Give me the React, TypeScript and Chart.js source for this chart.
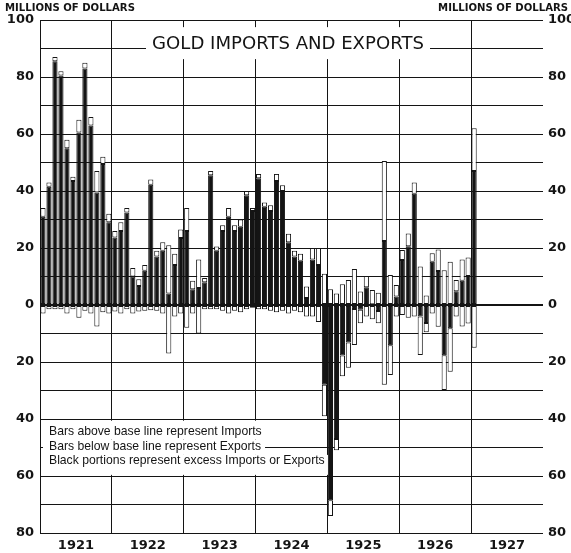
import React, { useEffect, useRef } from "react";
import { Chart, registerables } from "chart.js";
Chart.register(...registerables);

const YEARS = ["1921", "1922", "1923", "1924", "1925", "1926", "1927"];
const MONTHS = ["Jan", "Feb", "Mar", "Apr", "May", "Jun", "Jul", "Aug", "Sep", "Oct", "Nov", "Dec"];

// Gold imports, millions of dollars (Jan 1921 - Jan 1927)
const IMPORTS = [
  34, 43, 87, 82, 58, 45, 65, 85, 66, 47, 52, 32,
  26, 29, 34, 13, 9, 14, 44, 19, 22, 21, 18, 26.5,
  34, 8.5, 16, 9.5, 47, 20.5, 28, 34, 28, 30, 40, 34,
  46, 36, 35, 46, 42, 25, 19, 18, 6.5, 20, 20, 11,
  5.5, 4, 7.3, 8.8, 12.6, 4.7, 10.2, 5.3, 4.3, 50.5, 10.5, 7,
  19.3, 25.1, 43, 13.5, 3.3, 18.2, 19.5, 12.2, 15.2, 8.8, 16, 16.7,
  62,
];
// Gold exports, millions of dollars
const EXPORTS = [
  3, 1.5, 1.5, 1.5, 3, 1.5, 4.5, 2, 3, 7.5, 2.5, 3,
  2.3, 3, 1.5, 3, 2.3, 2, 1.8, 2, 3, 17, 4, 3,
  8, 3, 10, 1.5, 1.5, 1.5, 2, 3, 2, 2.5, 1.5, 1,
  1.5, 1.5, 2, 2.5, 2, 3, 2, 2.5, 4, 4, 6, 39,
  74, 51, 25, 22, 14, 6.4, 4, 5, 6.4, 28, 24.6, 4,
  3.5, 4.5, 4, 17.5, 9.6, 3, 7.6, 29.8, 23.4, 4, 7.5, 6.5,
  15,
];
const TICK_VALUES = [100, 80, 60, 40, 20, 0, -20, -40, -60, -80];
const TITLE = "GOLD IMPORTS AND EXPORTS";
const UNIT = "MILLIONS OF DOLLARS";
const LEGEND_LINES = [
  "Bars above base line represent Imports",
  "Bars below base line represent Exports",
  "Black portions represent excess Imports or Exports",
];

const INK = "#141414";

function fitFont(ctx: CanvasRenderingContext2D, text: string, style: string, family: string, size: number, target: number) {
  ctx.font = `${style} ${size}px ${family}`;
  const w = ctx.measureText(text).width;
  const s = Math.max(6, Math.min(30, (size * target) / w));
  ctx.font = `${style} ${s.toFixed(2)}px ${family}`;
}

const decorPlugin = {
  id: "decor",
  beforeDatasetsDraw(chart: any) {
    const ctx: CanvasRenderingContext2D = chart.ctx;
    const ys = chart.scales.y;
    ctx.save();
    // title panel
    ctx.fillStyle = "#ffffff";
    ctx.fillRect(146, ys.getPixelForValue(97.5), 284, 32);
    fitFont(ctx, TITLE, "normal", "'DejaVu Sans'", 16, 272);
    ctx.fillStyle = INK;
    ctx.textAlign = "center";
    ctx.textBaseline = "middle";
    ctx.fillText(TITLE, 288, ys.getPixelForValue(91.5));

    // legend panel
    ctx.textAlign = "left";
    const family = "'Liberation Sans'";
    const centers = [-44.3, -49.6, -54.6];
    const bands = [[-40.6, -47.2], [-47.2, -52.6], [-52.6, -59.6]];
    LEGEND_LINES.forEach((line, k) => {
      ctx.font = `12.2px ${family}`;
      const w = ctx.measureText(line).width;
      const top = ys.getPixelForValue(bands[k][0]);
      const bot = ys.getPixelForValue(bands[k][1]);
      ctx.fillStyle = "#ffffff";
      ctx.fillRect(43, top, w + 10, bot - top);
      ctx.fillStyle = INK;
      ctx.fillText(line, 49, ys.getPixelForValue(centers[k]));
    });
    ctx.restore();
  },
  afterDraw(chart: any) {
    const ctx: CanvasRenderingContext2D = chart.ctx;
    const ys = chart.scales.y;
    const xs = chart.scales.x;
    const area = chart.chartArea;
    ctx.save();
    ctx.fillStyle = INK;
    ctx.textBaseline = "middle";
    ctx.font = "bold 13px 'DejaVu Sans'";
    TICK_VALUES.forEach((v) => {
      const y = ys.getPixelForValue(v);
      const t = String(Math.abs(v));
      ctx.textAlign = "right";
      ctx.fillText(t, area.left - 6, y);
      ctx.textAlign = "left";
      ctx.fillText(t, area.right + 5, y);
    });
    // unit labels
    fitFont(ctx, UNIT, "bold", "'DejaVu Sans'", 9, 130);
    ctx.textAlign = "left";
    ctx.fillText(UNIT, 5, 8);
    ctx.textAlign = "right";
    ctx.fillText(UNIT, 568, 8);
    // year labels
    ctx.font = "bold 13px 'DejaVu Sans'";
    ctx.textAlign = "center";
    YEARS.forEach((yr, k) => {
      const x = (xs.getPixelForValue(k * 12) + xs.getPixelForValue(k * 12 + 11)) / 2;
      ctx.fillText(yr, x, area.bottom + 13);
    });
    ctx.restore();
  },
};

export default function App() {
  const ref = useRef<HTMLCanvasElement>(null);
  useEffect(() => {
    const labels = YEARS.flatMap((y) => MONTHS.map((m) => `${m} ${y}`));
    const has = (i: number) => i < IMPORTS.length && i < EXPORTS.length;
    const impBlack = labels.map((_, i) => (has(i) && IMPORTS[i] > EXPORTS[i] ? IMPORTS[i] - EXPORTS[i] : null));
    const impWhite = labels.map((_, i) => (has(i) ? Math.min(IMPORTS[i], EXPORTS[i]) : null));
    const expBlack = labels.map((_, i) => (has(i) && EXPORTS[i] > IMPORTS[i] ? -(EXPORTS[i] - IMPORTS[i]) : null));
    const expWhite = labels.map((_, i) => (has(i) ? -Math.min(IMPORTS[i], EXPORTS[i]) : null));

    const common = { stack: "s", barPercentage: 0.86, categoryPercentage: 1, borderWidth: 1, borderColor: INK, borderSkipped: false as any };
    const chart = new Chart(ref.current as HTMLCanvasElement, {
      type: "bar",
      data: {
        labels,
        datasets: [
          { label: "Excess imports", data: impBlack, backgroundColor: INK, ...common },
          { label: "Imports", data: impWhite, backgroundColor: "#ffffff", ...common },
          { label: "Excess exports", data: expBlack, backgroundColor: INK, ...common },
          { label: "Exports", data: expWhite, backgroundColor: "#ffffff", ...common },
        ],
      },
      options: {
        animation: false,
        responsive: false,
        maintainAspectRatio: false,
        layout: { padding: { left: 40, right: 28, top: 20, bottom: 20 } },
        plugins: { legend: { display: false }, tooltip: { enabled: false }, title: { display: false } },
        scales: {
          x: {
            type: "category",
            stacked: true,
            offset: true,
            ticks: { display: false, autoSkip: false },
            grid: {
              offset: true,
              drawTicks: false,
              color: (c: any) => (c.index % 12 === 0 ? INK : "rgba(0,0,0,0)"),
              lineWidth: 1,
            },
            border: { display: false },
          },
          y: {
            stacked: true,
            min: -80,
            max: 100,
            ticks: { display: false, stepSize: 10 },
            grid: {
              drawTicks: false,
              color: INK,
              lineWidth: (c: any) => (c.tick && c.tick.value === 0 ? 2 : 1),
            },
            border: { display: false },
          },
        },
      },
      plugins: [decorPlugin],
    });
    return () => chart.destroy();
  }, []);
  return (
    <div style={{ position: "absolute", left: 0, top: 0, width: 571, height: 553, background: "#fff" }}>
      <canvas ref={ref} width={571} height={553} style={{ display: "block" }} />
    </div>
  );
}
